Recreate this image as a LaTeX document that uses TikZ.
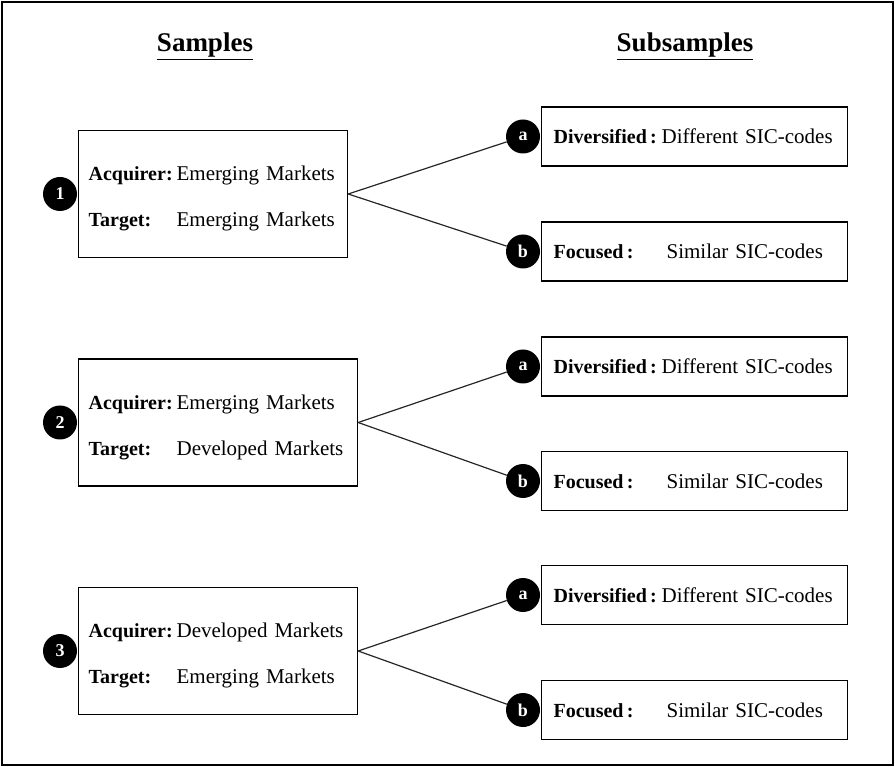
\documentclass[tikz,border=0pt]{standalone}
\usepackage{fontspec}
\setmainfont{Liberation Serif}
\usetikzlibrary{positioning}

\tikzset{
  samplebox/.style={draw, line width=1.2pt, inner xsep=10pt, inner ysep=0pt,
    minimum height=127pt, text width=#1, align=left, anchor=west},
  subbox/.style={draw, line width=1.2pt, inner xsep=12pt, inner ysep=0pt,
    minimum height=59pt, text width=282pt, align=left, anchor=west},
  numdot/.style={circle, fill=black, text=white, inner sep=0pt, minimum size=34pt,
    font=\fontsize{18}{18}\selectfont\bfseries},
  link/.style={line width=1.2pt, black!85},
  heading/.style={anchor=base, font=\fontsize{27}{32}\selectfont\bfseries}
}
\newcommand{\lbl}[1]{{\fontsize{20}{25}\selectfont\bfseries #1}}
\newcommand{\pairline}[2]{\rule{0pt}{24pt}\makebox[88pt][l]{\lbl{Acquirer:}}#1\\[21pt]\makebox[88pt][l]{\lbl{Target:}}#2}
\newcommand{\divline}{\makebox[108pt][l]{\lbl{Diversified\,:}}Different SIC-codes}
\newcommand{\focline}{\makebox[113pt][l]{\lbl{Focused\,:}}Similar SIC-codes}

\begin{document}
\begin{tikzpicture}[x=1pt, y=-1pt, font=\fontsize{21}{25}\selectfont]
  \useasboundingbox (0,0) rectangle (895,767);
  \draw[line width=1.2pt] (2,2) rectangle (893,765);

  % headings
  \node[heading] (hsamp) at (205,52) {\underline{Samples}};
  \node[heading] (hsub) at (685,52) {\underline{Subsamples}};

  % samples
  \node[samplebox=249pt] (s1) at (78,194) {\pairline{Emerging Markets}{Emerging Markets}};
  \node[samplebox=259pt] (s2) at (78,422.5) {\pairline{Emerging Markets}{Developed Markets}};
  \node[samplebox=259pt] (s3) at (78,651) {\pairline{Developed Markets}{Emerging Markets}};
  \node[numdot] (n1) at (60,194) {1};
  \node[numdot] (n2) at (60,422.5) {2};
  \node[numdot] (n3) at (60,651) {3};

  % subsamples
  \node[subbox] (a1) at (541,136.5) {\divline};
  \node[subbox] (b1) at (541,251.5) {\focline};
  \node[subbox] (a2) at (541,366.5) {\divline};
  \node[subbox] (b2) at (541,481) {\focline};
  \node[subbox] (a3) at (541,595) {\divline};
  \node[subbox] (b3) at (541,710) {\focline};
  \node[numdot] (ca1) at (523,136.5) {a};
  \node[numdot] (cb1) at (523,251.5) {b};
  \node[numdot] (ca2) at (523,366.5) {a};
  \node[numdot] (cb2) at (523,481) {b};
  \node[numdot] (ca3) at (523,595) {a};
  \node[numdot] (cb3) at (523,710) {b};

  % links
  \draw[link] (s1.east) -- (ca1);
  \draw[link] (s1.east) -- (cb1);
  \draw[link] (s2.east) -- (ca2);
  \draw[link] (s2.east) -- (cb2);
  \draw[link] (s3.east) -- (ca3);
  \draw[link] (s3.east) -- (cb3);
\end{tikzpicture}
\end{document}
